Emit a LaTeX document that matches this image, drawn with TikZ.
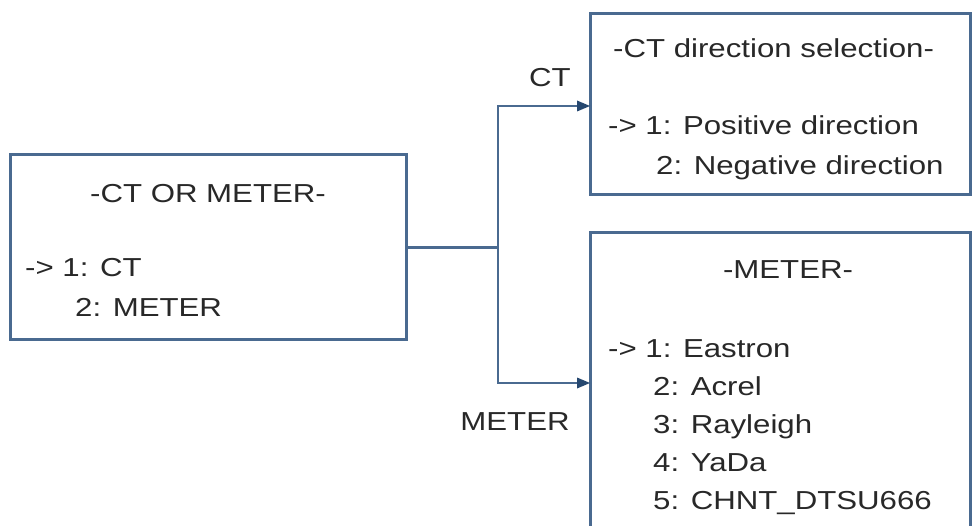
\documentclass[tikz,border=0pt]{standalone}
\usepackage{fontspec}
\setmainfont{Liberation Sans}[FakeStretch=1.2]
\usetikzlibrary{arrows.meta,calc}
\definecolor{boxblue}{RGB}{74,106,144}
\definecolor{tipblue}{RGB}{38,72,112}
\definecolor{txt}{RGB}{40,40,40}
\tikzset{
  menubox/.style={draw=boxblue,line width=3pt,fill=white,inner sep=0pt,outer sep=0pt,anchor=north west},
  txtline/.style={anchor=base west,inner sep=0pt,text=txt,font=\fontsize{26}{31}\selectfont},
  txtmid/.style={anchor=base,inner sep=0pt,text=txt,font=\fontsize{26}{31}\selectfont},
  conn/.style={draw=boxblue,line width=2.8pt},
  arr/.style={conn,-{Triangle[length=13pt,width=11pt,line width=0pt,fill=tipblue]}}
}
\begin{document}
\begin{tikzpicture}[x=1pt,y=-1pt]
\clip (0,0) rectangle (974,526);
\fill[white] (0,0) rectangle (974,526);
% boxes
\node[menubox,minimum width=396pt,minimum height=185pt] (L) at (10,155) {};
\node[menubox,minimum width=380pt,minimum height=181pt] (T) at (590,14) {};
\node[menubox,minimum width=380pt,minimum height=310pt] (M) at (590,233) {};
% left box text
\node[txtmid] (Lt) at (208,203) {-CT OR METER-};
\node[txtline] (L1) at (25,277) {-> 1: CT};
\node[txtline] (L2) at (75,317) {2: METER};
% top box text
\node[txtline] (Tt) at (613,58) {-CT direction selection-};
\node[txtline] (T1) at (608,135) {-> 1: Positive direction};
\node[txtline] (T2) at (656,175) {2: Negative direction};
% meter box text
\node[txtmid] (Mt) at (788,279) {-METER-};
\node[txtline] (M1) at (608,357) {-> 1: Eastron};
\node[txtline] (M2) at (653,395) {2: Acrel};
\node[txtline] (M3) at (653,433) {3: Rayleigh};
\node[txtline] (M4) at (653,471) {4: YaDa};
\node[txtline] (M5) at (653,509) {5: CHNT\_DTSU666};
% connectors
\coordinate (j) at (498,247.5);
\coordinate (ta) at (590,106);
\coordinate (ma) at (590,383);
\draw[conn] (L.east) -- (L.east -| j);
\draw[arr] (L.east -| j) |- (ta);
\draw[arr] (L.east -| j) |- (ma);
% labels
\node[txtmid] (ctl) at (550,87) {CT};
\node[txtmid] (mel) at (515,430) {METER};
\end{tikzpicture}
\end{document}
